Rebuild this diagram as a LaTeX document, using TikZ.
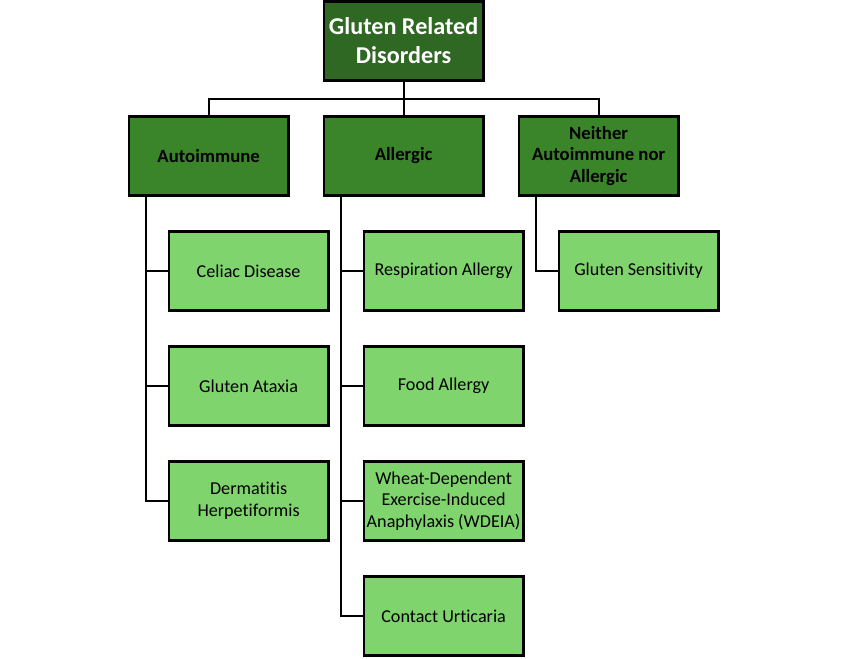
\documentclass[tikz,border=0pt]{standalone}
\usepackage{fontspec}
\setmainfont{Carlito}[Ligatures=NoCommon]
\usetikzlibrary{positioning}

\definecolor{rootgreen}{RGB}{46,104,34}
\definecolor{groupgreen}{RGB}{58,132,41}
\definecolor{leafgreen}{RGB}{127,212,110}

\begin{document}
\begin{tikzpicture}[node distance=0.905cm,line width=1.3pt]

  \tikzstyle{box}=[rectangle,draw=black,line width=1.6pt,outer sep=0pt,minimum width=3.99cm,minimum height=1.97cm,align=center,inner sep=1pt]
  \tikzstyle{rootbox}=[box,fill=rootgreen,text=white,font=\fontsize{17.2}{20.5}\selectfont\bfseries]
  \tikzstyle{groupbox}=[box,fill=groupgreen,font=\fontsize{13.3}{15.4}\selectfont\bfseries]
  \tikzstyle{leaf}=[box,fill=leafgreen,font=\fontsize{12.9}{15.4}\selectfont]

  \useasboundingbox (0,0) rectangle (21.2,-16.45);

  \node [rootbox] (root) at (10.09,-1.025) {Gluten Related\\Disorders};

  \node [groupbox] (allergic) [below=of root]                   {Allergic};
  \node [groupbox] (auto)     [left=0.885cm of allergic]        {Autoimmune};
  \node [groupbox] (neither)  [right=0.885cm of allergic]       {Neither\\Autoimmune nor\\Allergic};

  \node [leaf] (celiac) [below=of auto.south west,anchor=north west,xshift=1cm] {Celiac Disease};
  \node [leaf] (ataxia) [below=of celiac]                       {Gluten Ataxia};
  \node [leaf] (derm)   [below=of ataxia]                       {Dermatitis\\Herpetiformis};

  \node [leaf] (resp)    [below=of allergic.south west,anchor=north west,xshift=1cm] {Respiration Allergy};
  \node [leaf] (food)    [below=of resp]                        {Food Allergy};
  \node [leaf] (wdeia)   [below=of food]                        {Wheat-Dependent\\Exercise-Induced\\Anaphylaxis (WDEIA)};
  \node [leaf] (contact) [below=of wdeia]                       {Contact Urticaria};

  \node [leaf] (sens) [below=of neither.south west,anchor=north west,xshift=1cm] {Gluten Sensitivity};

  % top level
  \draw (root.south) -- (allergic.north);
  \draw (auto.north) -- ++(0,0.45) -| (neither.north);

  % spines
  \coordinate (s1) at ([xshift=0.425cm]auto.south west);
  \coordinate (s2) at ([xshift=0.425cm]allergic.south west);
  \coordinate (s3) at ([xshift=0.425cm]neither.south west);

  \draw (s1) |- (derm.west);
  \draw (s1 |- celiac.west) -- (celiac.west);
  \draw (s1 |- ataxia.west) -- (ataxia.west);

  \draw (s2) |- (contact.west);
  \draw (s2 |- resp.west) -- (resp.west);
  \draw (s2 |- food.west) -- (food.west);
  \draw (s2 |- wdeia.west) -- (wdeia.west);

  \draw (s3) |- (sens.west);

\end{tikzpicture}
\end{document}
